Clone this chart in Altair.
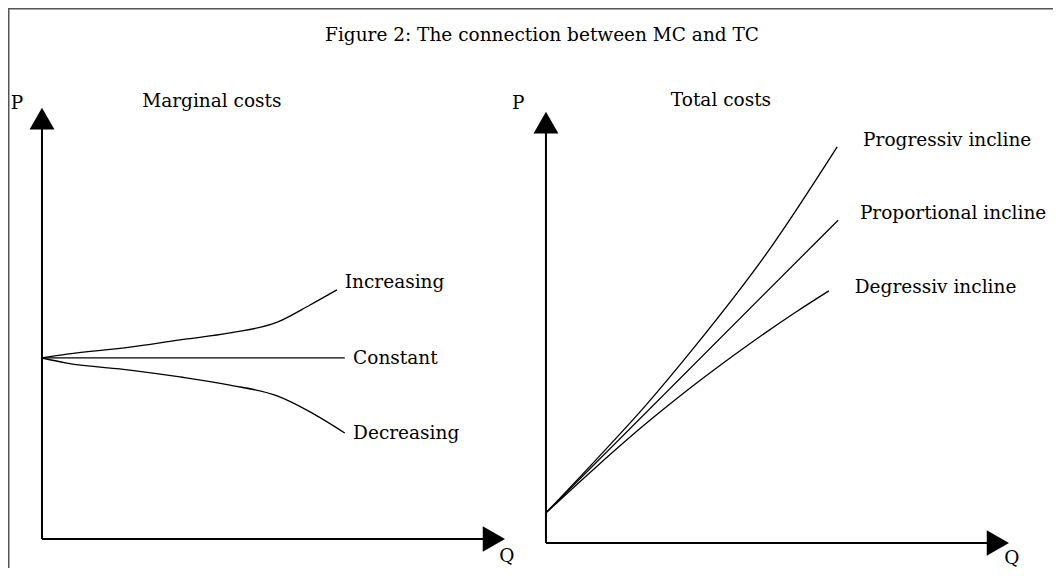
import altair as alt
import pandas as pd

# ---------------- data (chart units: Q horizontal, P vertical) ----------------
# Left panel: marginal costs
mc_increasing_q = [0.0, 0.54, 1.90, 2.98, 4.06, 5.08, 5.79, 6.37]
mc_increasing_p = [4.20, 4.29, 4.45, 4.62, 4.78, 5.03, 5.43, 5.78]
mc_constant_q = [0.0, 6.54]
mc_constant_p = [4.20, 4.20]
mc_decreasing_q = [0.0, 0.54, 1.90, 2.98, 4.06, 5.08, 5.79, 6.54]
mc_decreasing_p = [4.20, 4.08, 3.92, 3.76, 3.57, 3.32, 2.95, 2.46]

# Right panel: total costs
tc_progressive_q = [0.0, 1.08, 2.16, 3.24, 4.82, 6.29]
tc_progressive_p = [0.70, 1.93, 3.20, 4.59, 6.80, 9.19]
tc_proportional_q = [0.0, 6.31]
tc_proportional_p = [0.70, 7.49]
tc_degressive_q = [0.0, 1.08, 2.16, 3.24, 4.32, 5.40, 6.11]
tc_degressive_p = [0.70, 1.76, 2.77, 3.70, 4.56, 5.36, 5.85]

# curve labels (left-aligned at their anchor)
curve_labels = ["Increasing", "Constant", "Decreasing",
                "Progressiv incline", "Proportional incline", "Degressiv incline"]
curve_label_panel = ["MC", "MC", "MC", "TC", "TC", "TC"]
curve_label_q = [6.54, 6.72, 6.72, 6.85, 6.78, 6.67]
curve_label_p = [5.96, 4.20, 2.46, 9.35, 7.66, 5.94]

# centred texts: panel titles, axis letters, figure title
center_labels = ["Marginal costs", "Total costs", "P", "Q", "P", "Q",
                 "Figure 2: The connection between MC and TC"]
center_label_panel = ["MC", "TC", "MC", "MC", "TC", "TC", "FIG"]
center_label_q = [3.67, 3.78, -0.54, 10.04, -0.60, 10.06, 10.80]
center_label_p = [10.16, 10.28, 10.12, -0.40, 10.21, -0.35, 11.70]

# axis extent (in units) for both panels
axis_len_q = 10.0
axis_len_p = 10.0

# ---------------- tables ----------------
rows = []
def add(panel, series, qs, ps):
    for i, (q, p) in enumerate(zip(qs, ps)):
        rows.append(dict(panel=panel, series=series, Q=q, P=p, order=i))

add("MC", "Increasing", mc_increasing_q, mc_increasing_p)
add("MC", "Constant", mc_constant_q, mc_constant_p)
add("MC", "Decreasing", mc_decreasing_q, mc_decreasing_p)
add("TC", "Progressiv", tc_progressive_q, tc_progressive_p)
add("TC", "Proportional", tc_proportional_q, tc_proportional_p)
add("TC", "Degressiv", tc_degressive_q, tc_degressive_p)
curves = pd.DataFrame(rows)

axes_rows = []
for panel in ["MC", "TC"]:
    axes_rows.append(dict(panel=panel, kind="v", Q=0.0, P=0.0, Q2=0.0, P2=axis_len_p - 0.25))
    axes_rows.append(dict(panel=panel, kind="h", Q=0.0, P=0.0, Q2=axis_len_q - 0.24, P2=0.0))
axes_df = pd.DataFrame(axes_rows)

up_arrows = pd.DataFrame(dict(panel=["MC", "TC"], Q=[0.0, 0.0], P=[axis_len_p - 0.246] * 2))
right_arrows = pd.DataFrame(dict(panel=["MC", "TC"], Q=[axis_len_q - 0.24] * 2, P=[0.0, 0.0]))

lab1 = pd.DataFrame(dict(panel=curve_label_panel, text=curve_labels, Q=curve_label_q, P=curve_label_p))
lab2 = pd.DataFrame(dict(panel=center_label_panel, text=center_labels, Q=center_label_q, P=center_label_p))

# ---------------- layout: right panel sits to the right of the left one ----------------
W, H = 1045, 560
XS = alt.Scale(domain=[-0.734, 21.836], nice=False, zero=False)
YS = alt.Scale(domain=[-0.673, 12.32], nice=False, zero=False)

def shift(ch):
    return ch.transform_calculate(
        X="datum.panel === 'TC' ? datum.Q + 10.885 : datum.Q",
        Y="datum.panel === 'TC' ? datum.P - 0.093 : datum.P",
    )

def shift2(ch):
    return ch.transform_calculate(
        X="datum.panel === 'TC' ? datum.Q + 10.885 : datum.Q",
        Y="datum.panel === 'TC' ? datum.P - 0.093 : datum.P",
        X2="datum.panel === 'TC' ? datum.Q2 + 10.885 : datum.Q2",
        Y2="datum.panel === 'TC' ? datum.P2 - 0.093 : datum.P2",
    )

x = alt.X("X:Q", scale=XS, axis=None)
y = alt.Y("Y:Q", scale=YS, axis=None)

curve_layer = shift(alt.Chart(curves)).mark_line(
    color="black", strokeWidth=1.3, interpolate="monotone"
).encode(x=x, y=y, detail="series:N", order="order:Q")

axis_layer = shift2(alt.Chart(axes_df)).mark_rule(color="black", strokeWidth=2).encode(
    x=x, y=y, x2="X2:Q", y2="Y2:Q"
)

up_layer = shift(alt.Chart(up_arrows)).mark_point(
    shape="triangle-up", size=620, filled=True, color="black", opacity=1
).encode(x=x, y=y)

right_layer = shift(alt.Chart(right_arrows)).mark_point(
    shape="triangle-right", size=660, filled=True, color="black", opacity=1
).encode(x=x, y=y)

text_left = shift(alt.Chart(lab1)).mark_text(
    font="DejaVu Serif", fontSize=18.5, align="left", baseline="middle", color="black"
).encode(x=x, y=y, text="text:N")

text_center = shift(alt.Chart(lab2)).mark_text(
    font="DejaVu Serif", fontSize=18.5, align="center", baseline="middle", color="black"
).encode(x=x, y=y, text="text:N")

# thin frame on left and top edge, as in the reference image
frame_left = alt.Chart(pd.DataFrame({"a": [0]})).mark_rule(color="#555555", strokeWidth=1.5).encode(
    x=alt.value(0.75), y=alt.value(0), y2=alt.value(H)
)
frame_top = alt.Chart(pd.DataFrame({"a": [0]})).mark_rule(color="#555555", strokeWidth=1.5).encode(
    y=alt.value(0.75), x=alt.value(0), x2=alt.value(W)
)

chart = alt.layer(
    frame_left, frame_top, axis_layer, curve_layer, up_layer, right_layer, text_left, text_center
).properties(
    width=W, height=H, autosize=alt.AutoSizeParams(type="none"), padding=0, background="white"
).configure_view(stroke="transparent")

chart.save("out.html", embed_options={"renderer": "svg", "actions": False})
